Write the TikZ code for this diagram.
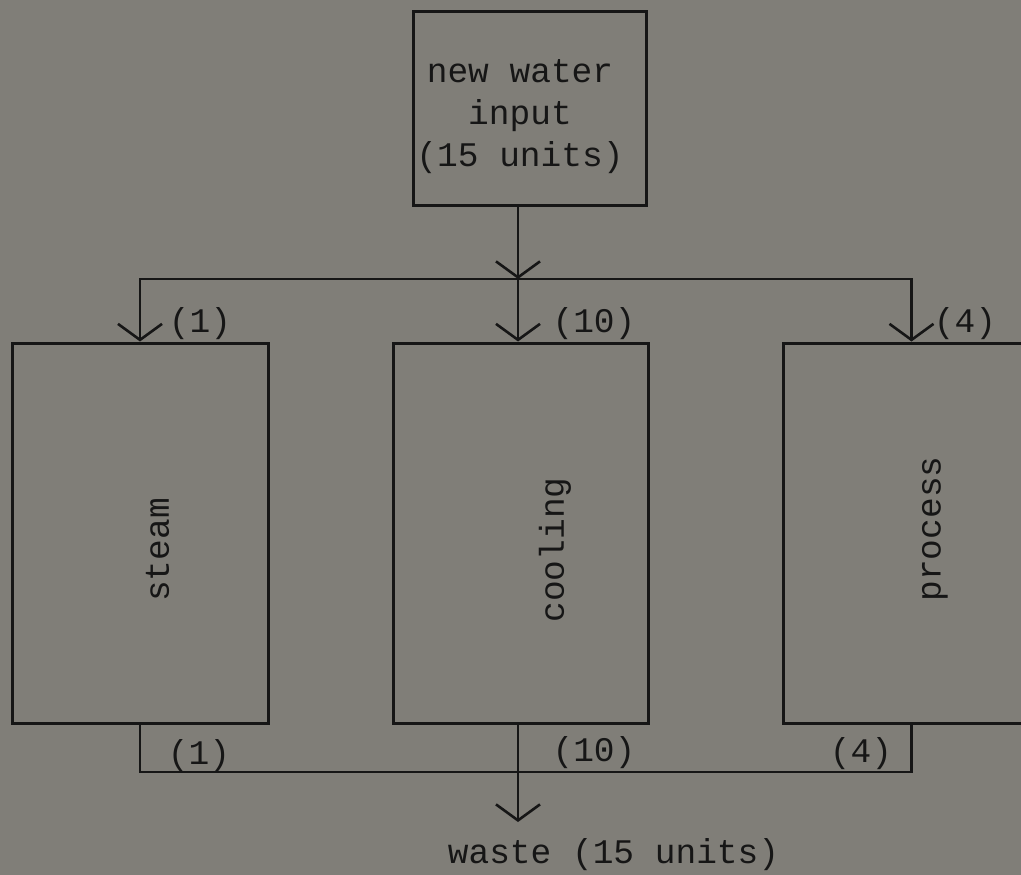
\documentclass[tikz,border=0pt]{standalone}
\usepackage{fontspec}
\newfontfamily\typewriter{Liberation Mono}
\usetikzlibrary{arrows.meta}
\definecolor{paper}{RGB}{128,126,120}
\definecolor{ink}{RGB}{22,22,22}
\begin{document}
\begin{tikzpicture}[x=1pt,y=-1pt,
  box/.style={draw=ink, line width=3pt, rectangle, inner sep=0pt},
  lbl/.style={text=ink, font=\typewriter\fontsize{34.5pt}{42pt}\selectfont, inner sep=0pt},
  flow/.style={draw=ink, line width=2.6pt},
  arr/.style={flow, -{Straight Barb[length=16pt,width=44pt,line width=2.6pt]}}
]
\fill[paper] (0,0) rectangle (1021,875);
\useasboundingbox (0,0) rectangle (1021,875);

% boxes
\node[box, minimum width=233pt, minimum height=193pt] (top) at (529.5,108.5) {};
\node[lbl, align=center] (toptxt) at (520,116.5) {new water\\input\\(15 units)};

\node[box, minimum width=256pt, minimum height=380pt] (steam) at (140,533) {};
\node[lbl, rotate=90] (steamtxt) at (157.5,550) {steam};
\node[box, minimum width=255pt, minimum height=380pt] (cooling) at (520.5,533) {};
\node[lbl, rotate=90] (coolingtxt) at (555,550) {cooling};
\node[box, minimum width=257pt, minimum height=380pt] (process) at (911.5,533) {};
\node[lbl, rotate=90] (processtxt) at (935,529) {process};

% junctions
\coordinate (j) at (518,279);
\coordinate (w) at (518,772);
\coordinate (wt) at (518,822);

% distribution
\draw[arr] (top.south -| j) -- (j);
\draw[arr] (j) -| (steam.north);
\draw[arr] (j) -| (process.north);
\draw[arr] (j) -- (cooling.north -| j);

% collection
\draw[flow] (steam.south) |- (w) -| (process.south);
\draw[arr] (cooling.south -| w) -- (wt);
\node[lbl] (waste) at (613.5,855) {waste (15 units)};

% flow labels
\node[lbl] (in1) at (200,324) {(1)};
\node[lbl] (in10) at (594,324) {(10)};
\node[lbl] (in4) at (965,324) {(4)};
\node[lbl] (out1) at (199,756) {(1)};
\node[lbl] (out10) at (594,753) {(10)};
\node[lbl] (out4) at (861,754) {(4)};
\end{tikzpicture}
\end{document}
